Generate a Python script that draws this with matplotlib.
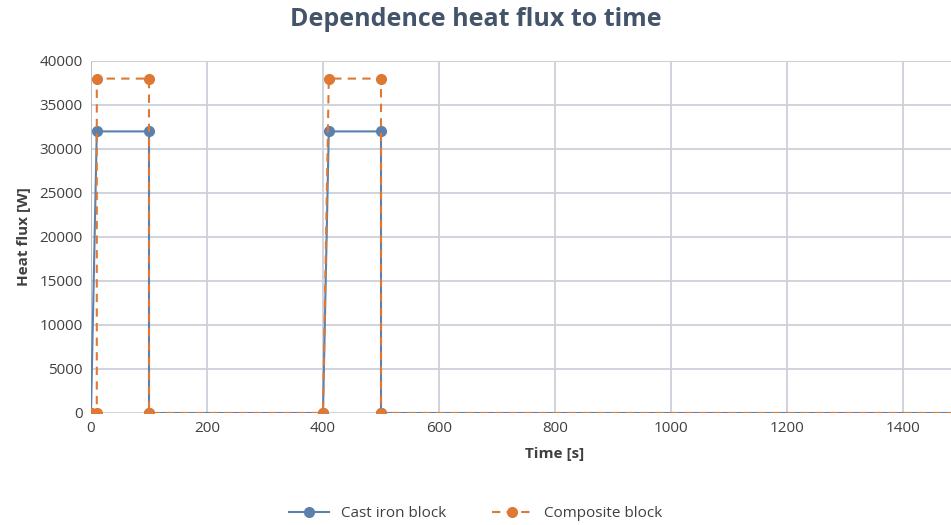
import matplotlib
matplotlib.use("Agg")
import matplotlib.pyplot as plt

# time [s] and heat flux [W]
cast_t = [0, 10, 100, 100, 400, 410, 500, 500, 1600]
cast_q = [0, 32000, 32000, 0, 0, 32000, 32000, 0, 0]
comp_t = [0, 10, 10, 100, 100, 400, 410, 500, 500, 1600]
comp_q = [0, 0, 38000, 38000, 0, 0, 38000, 38000, 0, 0]

xticks = list(range(0, 1600, 200))
yticks = list(range(0, 40001, 5000))

blue = "#5B80AC"
orange = "#DE7935"
text_col = "#404040"
title_col = "#44546A"
grid_col = "#CDD0D9"

plt.rcParams['font.family'] = ['Open Sans', 'DejaVu Sans']

fig = plt.figure(figsize=(9.51, 5.25), dpi=100)
ax = fig.add_axes([91/951, 1 - 413/525, 928/951, 352/525])

ax.plot(cast_t, cast_q, color=blue, lw=1.5, marker='o', ms=7,
        label="Cast iron block", zorder=3)
ax.plot(comp_t, comp_q, color=orange, lw=1.5, ls=(0, (4, 3)), marker='o', ms=7,
        label="Composite block", zorder=4)

ax.set_xlim(0, 1600)
ax.set_ylim(0, 40000)
ax.set_xticks(xticks)
ax.set_yticks(yticks)
ax.grid(True, color=grid_col, lw=1.3)
ax.set_axisbelow(True)
for s in ax.spines.values():
    s.set_visible(False)
ax.axhline(40000, color=grid_col, lw=1.3, zorder=0)
ax.axvline(0, color="#B8BCC6", lw=1.3, zorder=1)
ax.tick_params(length=0, labelsize=11, colors=text_col, pad=6)

ax.set_xlabel("Time [s]", fontsize=11, fontweight='bold', color=text_col, labelpad=8)
ax.set_ylabel("Heat flux [W]", fontsize=11, fontweight='bold', color=text_col, labelpad=6)
fig.text(0.5, 0.962, "Dependence heat flux to time", ha='center', va='center',
         fontsize=18, fontweight='bold', color=title_col)

fig.legend(loc='center', bbox_to_anchor=(0.5, 0.022), ncol=2, frameon=False,
           fontsize=11, labelcolor=text_col, columnspacing=3, handlelength=2.6)

fig.savefig("out.png", dpi=100)
